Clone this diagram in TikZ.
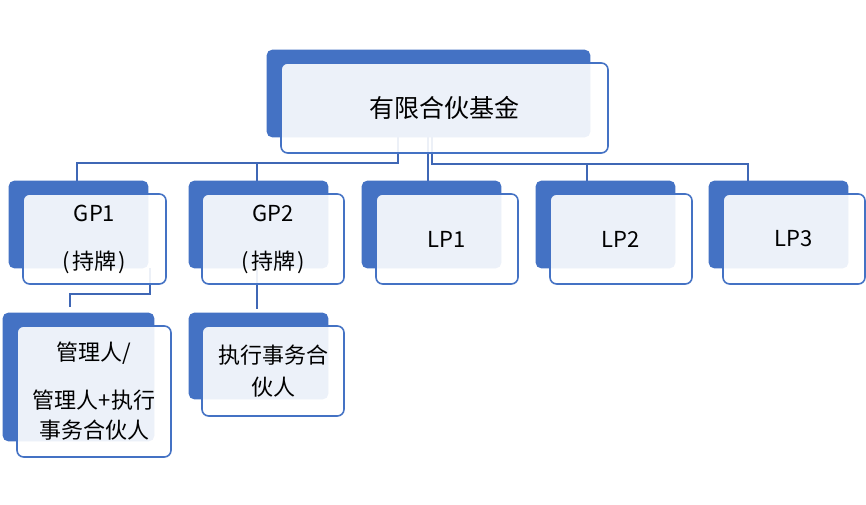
\documentclass[tikz,border=0pt]{standalone}
\usepackage{fontspec}
\setmainfont{Noto Sans CJK SC}
\usetikzlibrary{fit}
\definecolor{acc}{HTML}{4472C4}
\definecolor{conn}{HTML}{3F67B5}
\newcommand\lpar{(\kern1.8pt}
\newcommand\rpar{\kern1.8pt)}
\begin{document}
\begin{tikzpicture}[x=0.75pt,y=-0.75pt,
  backbox/.style={fill=acc, draw=none, rounded corners=4pt, inner sep=0pt},
  frontbox/.style={fill=white, fill opacity=0.9, draw=acc, line width=1.2pt, rounded corners=5pt, inner sep=0pt},
  lbl/.style={text=black, align=center, inner sep=0pt, font=\fontsize{16.5pt}{22.5pt}\selectfont},
  toplbl/.style={text=black, align=center, inner sep=0pt, font=\fontsize{18.75pt}{22pt}\selectfont},
  conn/.style={draw=conn, line width=1.4pt}]
\useasboundingbox (0,0) rectangle (866,505);
% connector elbows
\coordinate (eL) at (398,163);
\coordinate (eR) at (432,164);
\coordinate (eM) at (150,294);
% invisible nodes for positions (back boxes)
\path
  node[fit={(267,50) (590,137)}, inner sep=0pt] (topB) {}
  node[fit={(9,181) (148,268)}, inner sep=0pt] (gp1B) {}
  node[fit={(189,181) (328,268)}, inner sep=0pt] (gp2B) {}
  node[fit={(362,181) (501,268)}, inner sep=0pt] (lp1B) {}
  node[fit={(536,181) (675,268)}, inner sep=0pt] (lp2B) {}
  node[fit={(709,181) (848,268)}, inner sep=0pt] (lp3B) {}
  node[fit={(3,313) (154,441)}, inner sep=0pt] (mgrB) {}
  node[fit={(189,313) (328,399)}, inner sep=0pt] (exeB) {};
% connectors (drawn first, behind the boxes)
\draw[conn] (topB.south -| eL) -- (eL) -| (gp1B.north -| 77,0);
\draw[conn] (topB.south -| eL) -- (eL) -| (gp2B.north -| 257,0);
\draw[conn] (topB.south -| 428,0) -- (lp1B.north -| 428,0);
\draw[conn] (topB.south -| eR) -- (eR) -| (lp2B.north -| 587,0);
\draw[conn] (topB.south -| eR) -- (eR) -| (lp3B.north -| 748,0);
\draw[conn] (gp1B.south -| eM) -- (eM) -| (70,307);
\draw[conn] (gp2B.south -| 257,0) -- (257,309);
% back boxes
\foreach \b in {topB,gp1B,gp2B,lp1B,lp2B,lp3B,mgrB,exeB}
  \fill[acc, rounded corners=4pt] (\b.north west) rectangle (\b.south east);
% front boxes
\node[frontbox, fit={(281,63) (608,153)}] (top) {};
\node[frontbox, fit={(23,194) (166,284)}] (gp1) {};
\node[frontbox, fit={(202,194) (344,284)}] (gp2) {};
\node[frontbox, fit={(376,194) (518,284)}] (lp1) {};
\node[frontbox, fit={(550,194) (692,284)}] (lp2) {};
\node[frontbox, fit={(723,194) (865,284)}] (lp3) {};
\node[frontbox, fit={(17,326) (171,457)}] (mgr) {};
\node[frontbox, fit={(202,326) (344,416)}] (exe) {};
% texts
\node[toplbl] (topT) at (top.center) {有限合伙基金};
\node[lbl] (gp1T) at (gp1.center) {GP1\\[13.5pt]\lpar 持牌\rpar};
\node[lbl] (gp2T) at (gp2.center) {GP2\\[13.5pt]\lpar 持牌\rpar};
\node[lbl] (lp1T) at (lp1.center) {LP1};
\node[lbl] (lp2T) at (lp2.center) {LP2};
\node[lbl] (lp3T) at (lp3.center) {LP3};
\node[lbl] (mgrT) at (mgr.center) {管理人/\\[13.5pt]管理人+执行\\事务合伙人};
\node[lbl] (exeT) at (exe.center) {执行事务合\\[1.5pt]伙人};
\end{tikzpicture}
\end{document}
